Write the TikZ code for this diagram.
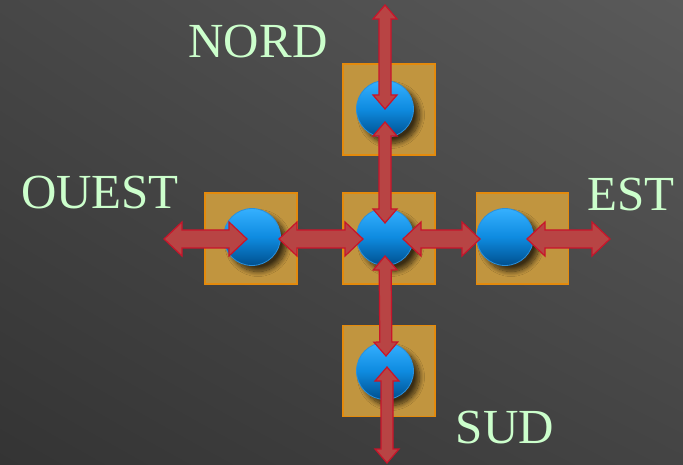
\documentclass[tikz,border=0pt]{standalone}
\usepackage{fontspec}
\setmainfont{Liberation Serif}
\usepackage{tikz}
\usetikzlibrary{calc}
\usetikzlibrary{shadings}
\usetikzlibrary{shadows.blur}

\definecolor{bgtl}{HTML}{474747}
\definecolor{bgtr}{HTML}{5A5A5A}
\definecolor{bgbl}{HTML}{343434}
\definecolor{bgbr}{HTML}{444444}
\definecolor{padfill}{HTML}{C1953F}
\definecolor{padedge}{HTML}{E48A0C}
\definecolor{balltop}{HTML}{35B0FF}
\definecolor{ballmid}{HTML}{0E8BE0}
\definecolor{ballbot}{HTML}{00508F}
\definecolor{balledge}{HTML}{2A90DC}
\definecolor{arrowfill}{HTML}{B84444}
\definecolor{arrowedge}{HTML}{C8142A}
\definecolor{labelgreen}{HTML}{CCFFCC}

\tikzset{
    pad/.style={rectangle, minimum width=92pt, minimum height=91pt, inner sep=0, fill=padfill, draw=padedge, line width=1.2pt},
    ball/.style={circle, minimum size=57pt, inner sep=0, draw=balledge, line width=0.8pt, top color=balltop, bottom color=ballbot, middle color=ballmid, blur shadow={shadow xshift=6pt, shadow yshift=-6pt, shadow blur radius=5pt, shadow blur steps=12, shadow opacity=70}},
    bigarrow/.style={fill=arrowfill, draw=arrowedge, line width=1.2pt, line join=miter},
    compass/.style={text=labelgreen, inner sep=0, font=\fontsize{49}{52}\selectfont}
}

% #1,#2 tips, #3 head length, #4 half head, #5 half shaft
\newcommand\fatarrow[5]{%
    \coordinate (fap) at ($(#1)!#3!(#2)$);
    \coordinate (faq) at ($(#2)!#3!(#1)$);
    \filldraw[bigarrow] (#1.center) -- ($(fap)!#4!90:(#2)$) -- ($(fap)!#5!90:(#2)$) -- ($(faq)!#5!-90:(#1)$) -- ($(faq)!#4!-90:(#1)$)
        -- (#2.center) -- ($(faq)!#4!90:(#1)$) -- ($(faq)!#5!90:(#1)$) -- ($(fap)!#5!-90:(#2)$) -- ($(fap)!#4!-90:(#2)$) -- cycle;
}

\begin{document}
\begin{tikzpicture}[x=1pt, y=-1pt]
    \useasboundingbox (0, 0) rectangle (683, 465);
    \shade[upper left=bgtl, upper right=bgtr, lower left=bgbl, lower right=bgbr] (0, 0) rectangle (683, 465);

    \node[pad] (padn) at (389, 109.5) {};
    \node[pad] (padc) at (389, 238.5) {};
    \node[pad] (padw) at (251, 238.5) {};
    \node[pad] (pade) at (522.5, 238.5) {};
    \node[pad] (pads) at (389, 371) {};

    \node[ball] (balln) at (385, 109) {};
    \node[ball] (ballc) at (385, 237) {};
    \node[ball] (ballw) at (252, 237) {};
    \node[ball] (balle) at (505, 237) {};
    \node[ball] (balls) at (385, 371) {};

    \node[compass] (nord) at (258, 42) {NORD};
    \node[compass] (ouest) at (100, 193) {OUEST};
    \node[compass] (est) at (631, 195) {EST};
    \node[compass] (sud) at (505, 428) {SUD};

    \coordinate (ntop) at (385, 5);
    \coordinate (nlow) at ($(balln)+(0, 13)$);
    \coordinate (cup) at ($(ballc)+(0, -14)$);
    \coordinate (cdown) at ($(ballc)+(0, 19)$);
    \coordinate (sup) at ($(balls)+(1, -15)$);
    \coordinate (slow) at ($(balls)+(2, -4)$);
    \coordinate (sbot) at (387, 463);
    \coordinate (wend) at (164, 239);
    \coordinate (win) at ($(ballw)+(-5, 2)$);
    \coordinate (wout) at ($(ballw)+(27, 2)$);
    \coordinate (cleft) at ($(ballc)+(-22, 2)$);
    \coordinate (cright) at ($(ballc)+(18, 2)$);
    \coordinate (ein) at ($(balle)+(-25, 2)$);
    \coordinate (eout) at ($(balle)+(22, 2)$);
    \coordinate (eend) at (610, 239);

    \fatarrow{ntop}{balln}{14pt}{12pt}{6pt}
    \fatarrow{nlow}{cup}{14pt}{12pt}{6pt}
    \fatarrow{cdown}{sup}{14pt}{12pt}{6pt}
    \fatarrow{slow}{sbot}{14pt}{12pt}{6pt}
    \fatarrow{wend}{win}{18pt}{17pt}{9pt}
    \fatarrow{wout}{cleft}{18pt}{17pt}{9pt}
    \fatarrow{cright}{ein}{18pt}{17pt}{9pt}
    \fatarrow{eout}{eend}{18pt}{17pt}{9pt}
\end{tikzpicture}
\end{document}
